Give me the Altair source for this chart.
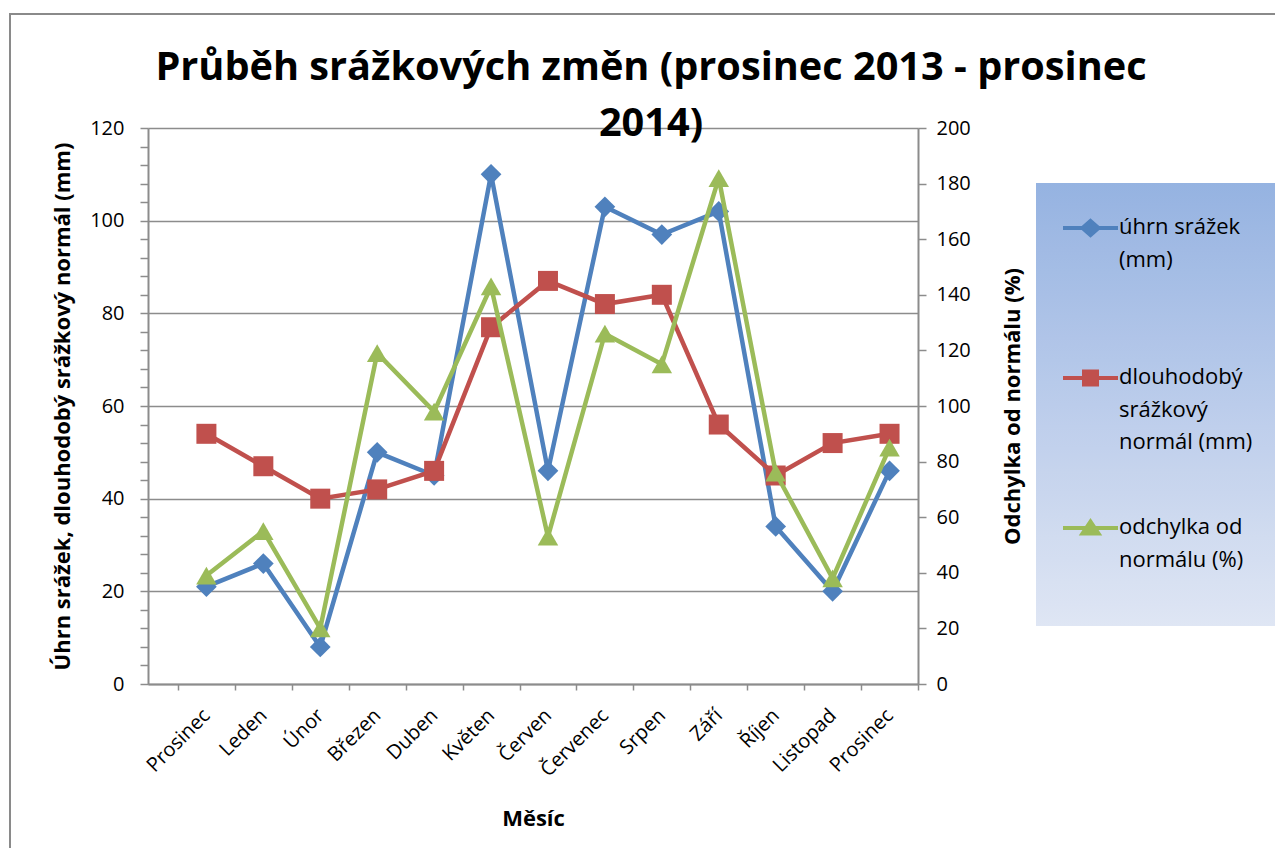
import altair as alt
import pandas as pd

# ---- data ----
months = ["Prosinec", "Leden", "Únor", "Březen", "Duben", "Květen", "Červen",
          "Červenec", "Srpen", "Září", "Říjen", "Listopad", "Prosinec"]
uhrn = [21, 26, 8, 50, 45, 110, 46, 103, 97, 102, 34, 20, 46]
normal = [54, 47, 40, 42, 46, 77, 87, 82, 84, 56, 45, 52, 54]
odchylka = [39, 55, 20, 119, 98, 143, 53, 126, 115, 182, 76, 38, 85]

series_names = ["úhrn srážek (mm)", "dlouhodobý srážkový normál (mm)", "odchylka od normálu (%)"]
colors = ["#4F81BD", "#C0504D", "#9BBB59"]

rows = []
for i, m in enumerate(months):
    rows.append({"idx": i, "month": m, "series": series_names[0], "value": uhrn[i]})
    rows.append({"idx": i, "month": m, "series": series_names[1], "value": normal[i]})
    rows.append({"idx": i, "month": m, "series": series_names[2], "value": odchylka[i]})
df = pd.DataFrame(rows)

FONT = "Open Sans"
GRID = "#8c8c8c"

js_months = "[" + ",".join("'%s'" % m for m in months) + "]"

x_enc = alt.X(
    "idx:Q",
    scale=alt.Scale(domain=[-1.026, 12.5], nice=False, zero=False),
    axis=alt.Axis(
        values=[k / 2 for k in range(-1, 26)],
        labelExpr=f"datum.value % 1 === 0 ? {js_months}[datum.value] : ''",
        tickOpacity={"condition": {"test": "datum.value % 1 === 0", "value": 0}, "value": 1},
        grid=False,
        domainColor=GRID, domainWidth=2,
        tickColor=GRID, tickWidth=1.5, tickSize=6,
        labelAngle=315, labelAlign="right", labelBaseline="middle",
        labelPadding=22, labelFont=FONT, labelFontSize=20, labelColor="black",
        labelOverlap=False, labelFlush=False,
        title="Měsíc", titleFont=FONT, titleFontSize=22, titleFontWeight="bold",
        titleColor="black", titleX=385, titleY=134, titleBaseline="middle",
    ),
)

y_left = alt.Y(
    "value:Q",
    scale=alt.Scale(domain=[0, 120], nice=False),
    axis=alt.Axis(
        values=list(range(0, 121, 4)),
        labelExpr="datum.value % 20 === 0 ? datum.label : ''",
        grid=True, gridColor=GRID, gridWidth=1.5,
        gridOpacity={"condition": {"test": "datum.value % 20 !== 0", "value": 0}, "value": 1},
        domainColor=GRID, domainWidth=2,
        tickColor=GRID, tickWidth=1.5, tickSize=8,
        labelPadding=16, labelFont=FONT, labelFontSize=20, labelColor="black",
        labelOverlap=False,
        title="Úhrn srážek, dlouhodobý srážkový normál (mm)",
        titleFont=FONT, titleFontSize=22, titleFontWeight="bold", titleColor="black",
        titleAngle=270, titleX=-86, titleY=278, titleBaseline="middle", titleAlign="center",
    ),
)

y_right = alt.Y(
    "value:Q",
    scale=alt.Scale(domain=[0, 200], nice=False),
    axis=alt.Axis(
        orient="right",
        values=list(range(0, 201, 20)),
        grid=False,
        domainColor=GRID, domainWidth=2,
        tickColor=GRID, tickWidth=1.5, tickSize=8,
        labelPadding=10, labelFont=FONT, labelFontSize=20, labelColor="black",
        labelOverlap=False,
        title="Odchylka od normálu (%)",
        titleFont=FONT, titleFontSize=22, titleFontWeight="bold", titleColor="black",
        titleAngle=270, titleX=94, titleY=278, titleBaseline="middle", titleAlign="center",
    ),
)

# legend symbols: line with a marker in the middle (unit = 5px)
legend_paths = [
    "M-1.4,2.2H9.6M4.1,0.8L5.7,2.2L4.1,3.6L2.5,2.2Z",
    "M-1.4,2.2H9.6M2.8,0.9H5.4V3.5H2.8Z",
    "M-1.4,2.2H9.6M4.1,0.9L5.7,3.3H2.5Z",
]
label_expr = (
    "datum.value === '" + series_names[0] + "' ? ['úhrn srážek', '(mm)'] : "
    "datum.value === '" + series_names[1] + "' ? ['dlouhodobý', 'srážkový', 'normál (mm)'] : "
    "['odchylka od', 'normálu (%)', ' ']"
)
grad_stops = ["#95b3e1", "#dfe6f4"]

legend = alt.Legend(
    title=None, orient="none", legendX=888, legendY=55,
    padding=23, gridAlign="all", rowPadding=53,
    symbolSize=100, symbolStrokeWidth=4,
    labelFont=FONT, labelFontSize=22, labelColor="black", labelLimit=400,
    labelOffset=38, labelBaseline="top",
    labelExpr=label_expr,
    fillColor={"expr": "gradient('fill', [0, 0], [0, 1])"},
)

color_enc = alt.Color("series:N", scale=alt.Scale(domain=series_names, range=colors), legend=legend)


def series_layer(name, shape, size, y_enc):
    base = alt.Chart(df).transform_filter(alt.datum.series == name).encode(
        x=x_enc, y=y_enc, color=color_enc, order="idx:Q"
    )
    line = base.mark_line(strokeWidth=4.5)
    pts = base.mark_point(shape=shape, filled=True, size=size, opacity=1, strokeWidth=0)
    return alt.layer(line, pts)


frame = alt.Chart(alt.Data(values=[{"a": 1}])).mark_rect(
    fillOpacity=0, stroke="#8a8a8a", strokeWidth=2
).encode(x=alt.value(-138), x2=alt.value(1140), y=alt.value(-114), y2=alt.value(740))

# invisible layers that only carry the legend's symbol shapes and background gradient
ghost_shape = alt.Chart(df).transform_filter("false").mark_point().encode(
    shape=alt.Shape("series:N", scale=alt.Scale(domain=series_names, range=legend_paths), legend=legend)
)
ghost_fill = alt.Chart(pd.DataFrame({"g": [0, 1]})).transform_filter("false").mark_point().encode(
    fill=alt.Fill("g:Q", scale=alt.Scale(domain=[0, 1], range=grad_stops), legend=None)
)

left = alt.layer(
    series_layer(series_names[0], "diamond", 430, y_left),
    series_layer(series_names[1], "square", 400, y_left),
)
right = series_layer(series_names[2], "triangle-up", 420, y_right)

chart = alt.layer(frame, ghost_fill, left, right, ghost_shape).resolve_scale(y="independent").properties(
    width=770,
    height=556,
    autosize=alt.AutoSizeParams(type="none"),
    padding={"left": 140, "top": 120, "right": 357, "bottom": 164},
    background="white",
    title=alt.TitleParams(
        text=["Průběh srážkových změn (prosinec 2013 - prosinec", "2014)"],
        font=FONT, fontSize=39.7, fontWeight="bold", color="black",
        anchor="middle", frame="group", dx=118, dy=103, offset=-29,
        lineHeight=56.7,
    ),
).configure_view(stroke="transparent").configure(
    style={"guide-label": {"lineHeight": 32.5}}
)

chart.save("out.html", embed_options={"renderer": "svg", "actions": False})
